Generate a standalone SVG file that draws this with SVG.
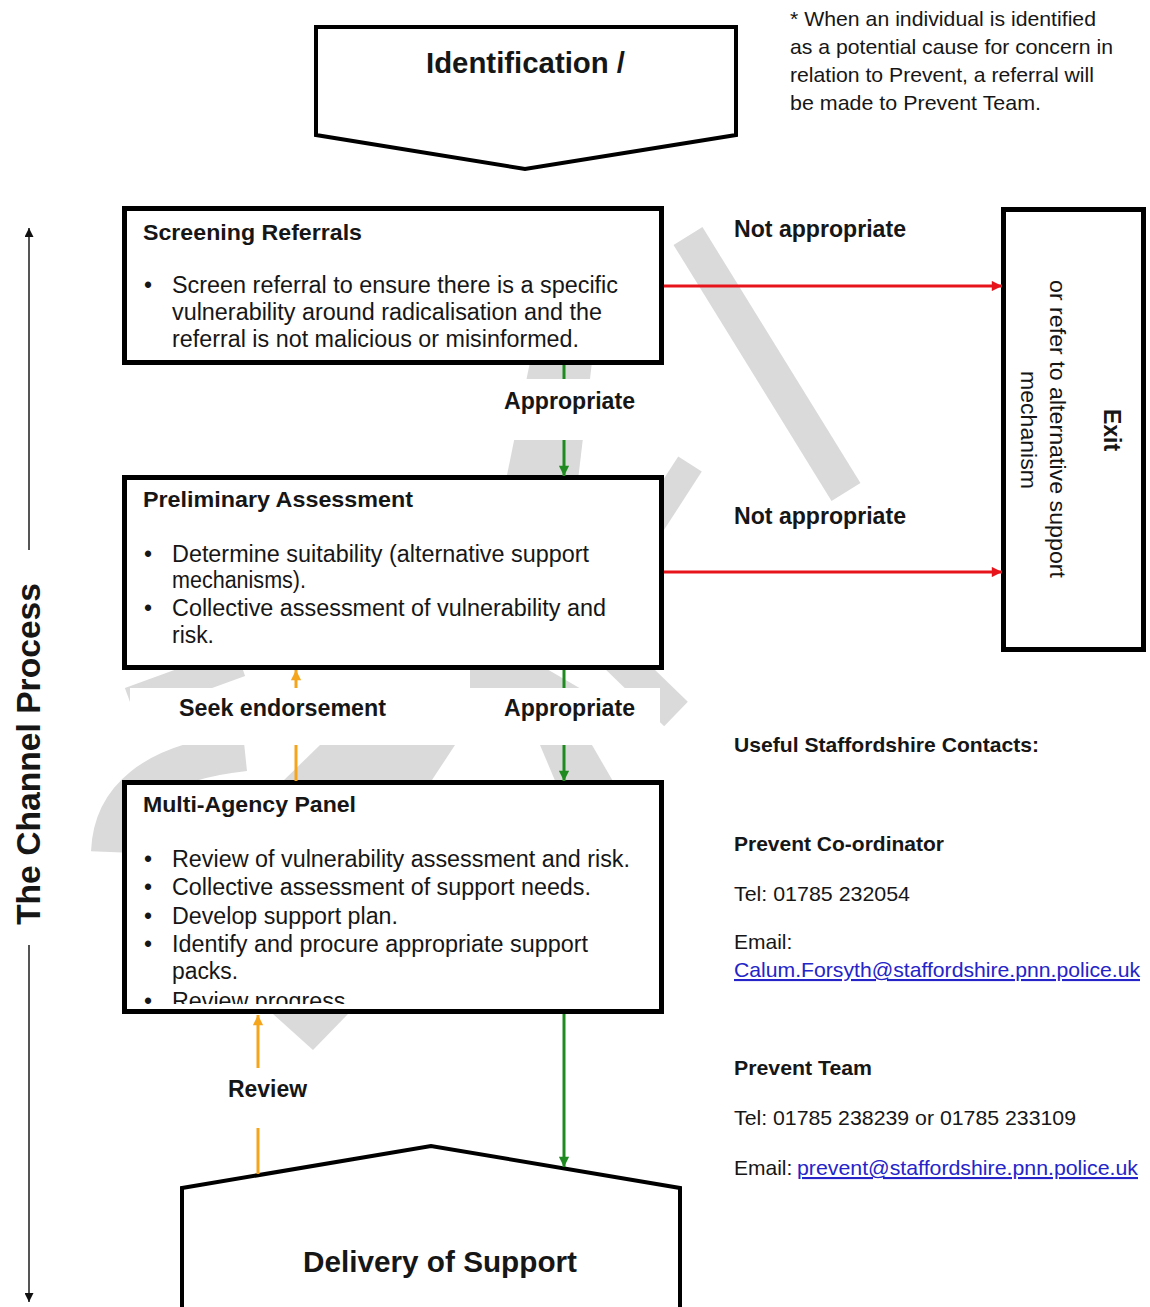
<svg xmlns="http://www.w3.org/2000/svg" width="1150" height="1307" viewBox="0 0 1150 1307">
<defs>
<style>
text{font-family:"Liberation Sans",Arial,sans-serif;fill:#161616}
.b{font-weight:bold}
.s23{font-size:23px}
.s21{font-size:21px}
.s22{font-size:22px}
.s29{font-size:29px}
.box{fill:#fff;stroke:#000;stroke-width:5}
.shape{fill:#fff;stroke:#000;stroke-width:4;stroke-linejoin:miter}
.wm{fill:none;stroke:#dadada;stroke-linecap:butt}
.wmf{fill:#dadada}
.red{stroke:#e8141c;stroke-width:3;fill:none}
.green{stroke:#1f8a1f;stroke-width:3;fill:none}
.orange{stroke:#f4a51c;stroke-width:3;fill:none}
.axis{stroke:#555;stroke-width:2;fill:none}
.bg{fill:#fff}
.link{fill:#2424c8}
</style>
<marker id="mr" viewBox="0 0 10 10" refX="10" refY="5" markerWidth="4" markerHeight="3.4" orient="auto" markerUnits="strokeWidth"><path d="M0,0 L10,5 L0,10 z" fill="#e8141c"/></marker>
<marker id="mg" viewBox="0 0 10 10" refX="10" refY="5" markerWidth="4" markerHeight="3.4" orient="auto" markerUnits="strokeWidth"><path d="M0,0 L10,5 L0,10 z" fill="#1f8a1f"/></marker>
<marker id="mo" viewBox="0 0 10 10" refX="10" refY="5" markerWidth="4" markerHeight="3.4" orient="auto" markerUnits="strokeWidth"><path d="M0,0 L10,5 L0,10 z" fill="#f4a51c"/></marker>
<marker id="mk" viewBox="0 0 10 10" refX="10" refY="5" markerWidth="5" markerHeight="4.5" orient="auto" markerUnits="strokeWidth"><path d="M0,0 L10,5 L0,10 z" fill="#111"/></marker>
<clipPath id="clipMap"><rect x="127" y="785" width="532" height="219"/></clipPath>
</defs>
<rect width="1150" height="1307" fill="#fff"/>

<g id="watermark">
<line class="wm" x1="688" y1="236" x2="846" y2="492" stroke-width="34"/>
<line class="wm" x1="646" y1="532" x2="690" y2="464" stroke-width="28"/>
<polygon class="wmf" points="530,362 592,362 578,480 506,480"/>
<line class="wm" x1="130" y1="702" x2="240" y2="662" stroke-width="30"/>
<polygon class="wmf" points="470,665 540,665 600,700 470,700"/>
<line class="wm" x1="610" y1="650" x2="676" y2="714" stroke-width="34"/>
<path class="wm" d="M110,852 C112,800 150,762 245,752" stroke-width="38"/>
<polygon class="wmf" points="281,783 320,745 455,745 430,783"/>
<polygon class="wmf" points="540,745 592,745 614,783 556,783"/>
<polygon class="wmf" points="273,1014 348,1014 313,1050"/>
</g>

<g id="identification">
<polygon class="shape" points="316,27 736,27 736,135 525,169 316,135"/>
<text class="b s29" x="426" y="73" textLength="199" lengthAdjust="spacingAndGlyphs">Identification /</text>
</g>

<g id="note">
<text class="s21" x="790" y="26" textLength="306" lengthAdjust="spacingAndGlyphs">* When an individual is identified</text>
<text class="s21" x="790" y="54" textLength="323" lengthAdjust="spacingAndGlyphs">as a potential cause for concern in</text>
<text class="s21" x="790" y="82" textLength="304" lengthAdjust="spacingAndGlyphs">relation to Prevent, a referral will</text>
<text class="s21" x="790" y="110" textLength="251" lengthAdjust="spacingAndGlyphs">be made to Prevent Team.</text>
</g>

<g id="screening">
<rect class="box" x="124.5" y="208.5" width="537" height="154"/>
<text class="b s22" x="143" y="240" textLength="219" lengthAdjust="spacingAndGlyphs">Screening Referrals</text>
<text class="s23" x="144" y="293">•</text>
<text class="s23" x="172" y="293" textLength="446" lengthAdjust="spacingAndGlyphs">Screen referral to ensure there is a specific</text>
<text class="s23" x="172" y="320" textLength="430" lengthAdjust="spacingAndGlyphs">vulnerability around radicalisation and the</text>
<text class="s23" x="172" y="347" textLength="407" lengthAdjust="spacingAndGlyphs">referral is not malicious or misinformed.</text>
</g>

<g id="preliminary">
<rect class="box" x="124.5" y="477.5" width="537" height="190"/>
<text class="b s22" x="143" y="507" textLength="270" lengthAdjust="spacingAndGlyphs">Preliminary Assessment</text>
<text class="s23" x="144" y="562">•</text>
<text class="s23" x="172" y="562" textLength="417" lengthAdjust="spacingAndGlyphs">Determine suitability (alternative support</text>
<text class="s23" x="172" y="588" textLength="134" lengthAdjust="spacingAndGlyphs">mechanisms).</text>
<text class="s23" x="144" y="616">•</text>
<text class="s23" x="172" y="616" textLength="434" lengthAdjust="spacingAndGlyphs">Collective assessment of vulnerability and</text>
<text class="s23" x="172" y="643" textLength="42" lengthAdjust="spacingAndGlyphs">risk.</text>
</g>

<g id="multi-agency">
<rect class="box" x="124.5" y="782.5" width="537" height="229"/>
<text class="b s22" x="143" y="812" textLength="213" lengthAdjust="spacingAndGlyphs">Multi-Agency Panel</text>
<text class="s23" x="144" y="867">•</text>
<text class="s23" x="172" y="867" textLength="458" lengthAdjust="spacingAndGlyphs">Review of vulnerability assessment and risk.</text>
<text class="s23" x="144" y="895">•</text>
<text class="s23" x="172" y="895" textLength="419" lengthAdjust="spacingAndGlyphs">Collective assessment of support needs.</text>
<text class="s23" x="144" y="924">•</text>
<text class="s23" x="172" y="924" textLength="226" lengthAdjust="spacingAndGlyphs">Develop support plan.</text>
<text class="s23" x="144" y="952">•</text>
<text class="s23" x="172" y="952" textLength="416" lengthAdjust="spacingAndGlyphs">Identify and procure appropriate support</text>
<text class="s23" x="172" y="979" textLength="66" lengthAdjust="spacingAndGlyphs">packs.</text>
<g clip-path="url(#clipMap)">
<text class="s23" x="144" y="1009">•</text>
<text class="s23" x="172" y="1009" textLength="180" lengthAdjust="spacingAndGlyphs">Review progress.</text>
</g>
</g>

<g id="exit">
<rect class="box" x="1003.5" y="209.5" width="140" height="440"/>
<text class="b" font-size="23" text-anchor="middle" transform="translate(1104,430) rotate(90)">Exit</text>
<text class="s22" text-anchor="middle" transform="translate(1050,429) rotate(90)" textLength="298" lengthAdjust="spacingAndGlyphs">or refer to alternative support</text>
<text class="s22" text-anchor="middle" transform="translate(1021,430) rotate(90)" textLength="118" lengthAdjust="spacingAndGlyphs">mechanism</text>
</g>

<g id="delivery">
<polygon class="shape" points="182,1188 431,1146 680,1188 680,1312 182,1312"/>
<text class="b s29" x="303" y="1272" textLength="274" lengthAdjust="spacingAndGlyphs">Delivery of Support</text>
</g>

<g id="channel-process">
<line class="axis" x1="29" y1="550" x2="29" y2="228" marker-end="url(#mk)"/>
<line class="axis" x1="29" y1="945" x2="29" y2="1302" marker-end="url(#mk)"/>
<text class="b" font-size="33" text-anchor="middle" transform="translate(40,754) rotate(-90)" textLength="342" lengthAdjust="spacingAndGlyphs">The Channel Process</text>
</g>

<g id="contacts">
<text class="b s21" x="734" y="752" textLength="305" lengthAdjust="spacingAndGlyphs">Useful Staffordshire Contacts:</text>
<text class="b s21" x="734" y="851" textLength="210" lengthAdjust="spacingAndGlyphs">Prevent Co-ordinator</text>
<text class="s21" x="734" y="901" textLength="176" lengthAdjust="spacingAndGlyphs">Tel: 01785 232054</text>
<text class="s21" x="734" y="949">Email:</text>
<text class="s21 link" x="734" y="977" text-decoration="underline" textLength="406" lengthAdjust="spacingAndGlyphs">Calum.Forsyth@staffordshire.pnn.police.uk</text>
<text class="b s21" x="734" y="1075" textLength="138" lengthAdjust="spacingAndGlyphs">Prevent Team</text>
<text class="s21" x="734" y="1125" textLength="342" lengthAdjust="spacingAndGlyphs">Tel: 01785 238239 or 01785 233109</text>
<text class="s21" x="734" y="1175">Email:</text>
<text class="s21 link" x="797" y="1175" text-decoration="underline" textLength="341" lengthAdjust="spacingAndGlyphs">prevent@staffordshire.pnn.police.uk</text>
</g>

<g id="connectors">
<line class="red" x1="664" y1="286" x2="1002" y2="286" marker-end="url(#mr)"/>
<line class="red" x1="664" y1="572" x2="1002" y2="572" marker-end="url(#mr)"/>
<line class="green" x1="564" y1="365" x2="564" y2="476" marker-end="url(#mg)"/>
<line class="green" x1="564" y1="670" x2="564" y2="781" marker-end="url(#mg)"/>
<line class="green" x1="564" y1="1014" x2="564" y2="1167" marker-end="url(#mg)"/>
<line class="orange" x1="296" y1="781" x2="296" y2="670" marker-end="url(#mo)"/>
<line class="orange" x1="258" y1="1174" x2="258" y2="1015" marker-end="url(#mo)"/>
<g id="connector-labels">
<text class="b s23" x="734" y="237" textLength="172" lengthAdjust="spacingAndGlyphs">Not appropriate</text>
<text class="b s23" x="734" y="524" textLength="172" lengthAdjust="spacingAndGlyphs">Not appropriate</text>
<rect class="bg" x="494" y="379" width="150" height="61"/>
<text class="b s23" x="504" y="409" textLength="131" lengthAdjust="spacingAndGlyphs">Appropriate</text>
<rect class="bg" x="130" y="688" width="530" height="57"/>
<text class="b s23" x="504" y="716" textLength="131" lengthAdjust="spacingAndGlyphs">Appropriate</text>
<text class="b s23" x="179" y="716" textLength="207" lengthAdjust="spacingAndGlyphs">Seek endorsement</text>
<rect class="bg" x="222" y="1068" width="92" height="60"/>
<text class="b s23" x="228" y="1097" textLength="79" lengthAdjust="spacingAndGlyphs">Review</text>
</g>
</g>
</svg>
